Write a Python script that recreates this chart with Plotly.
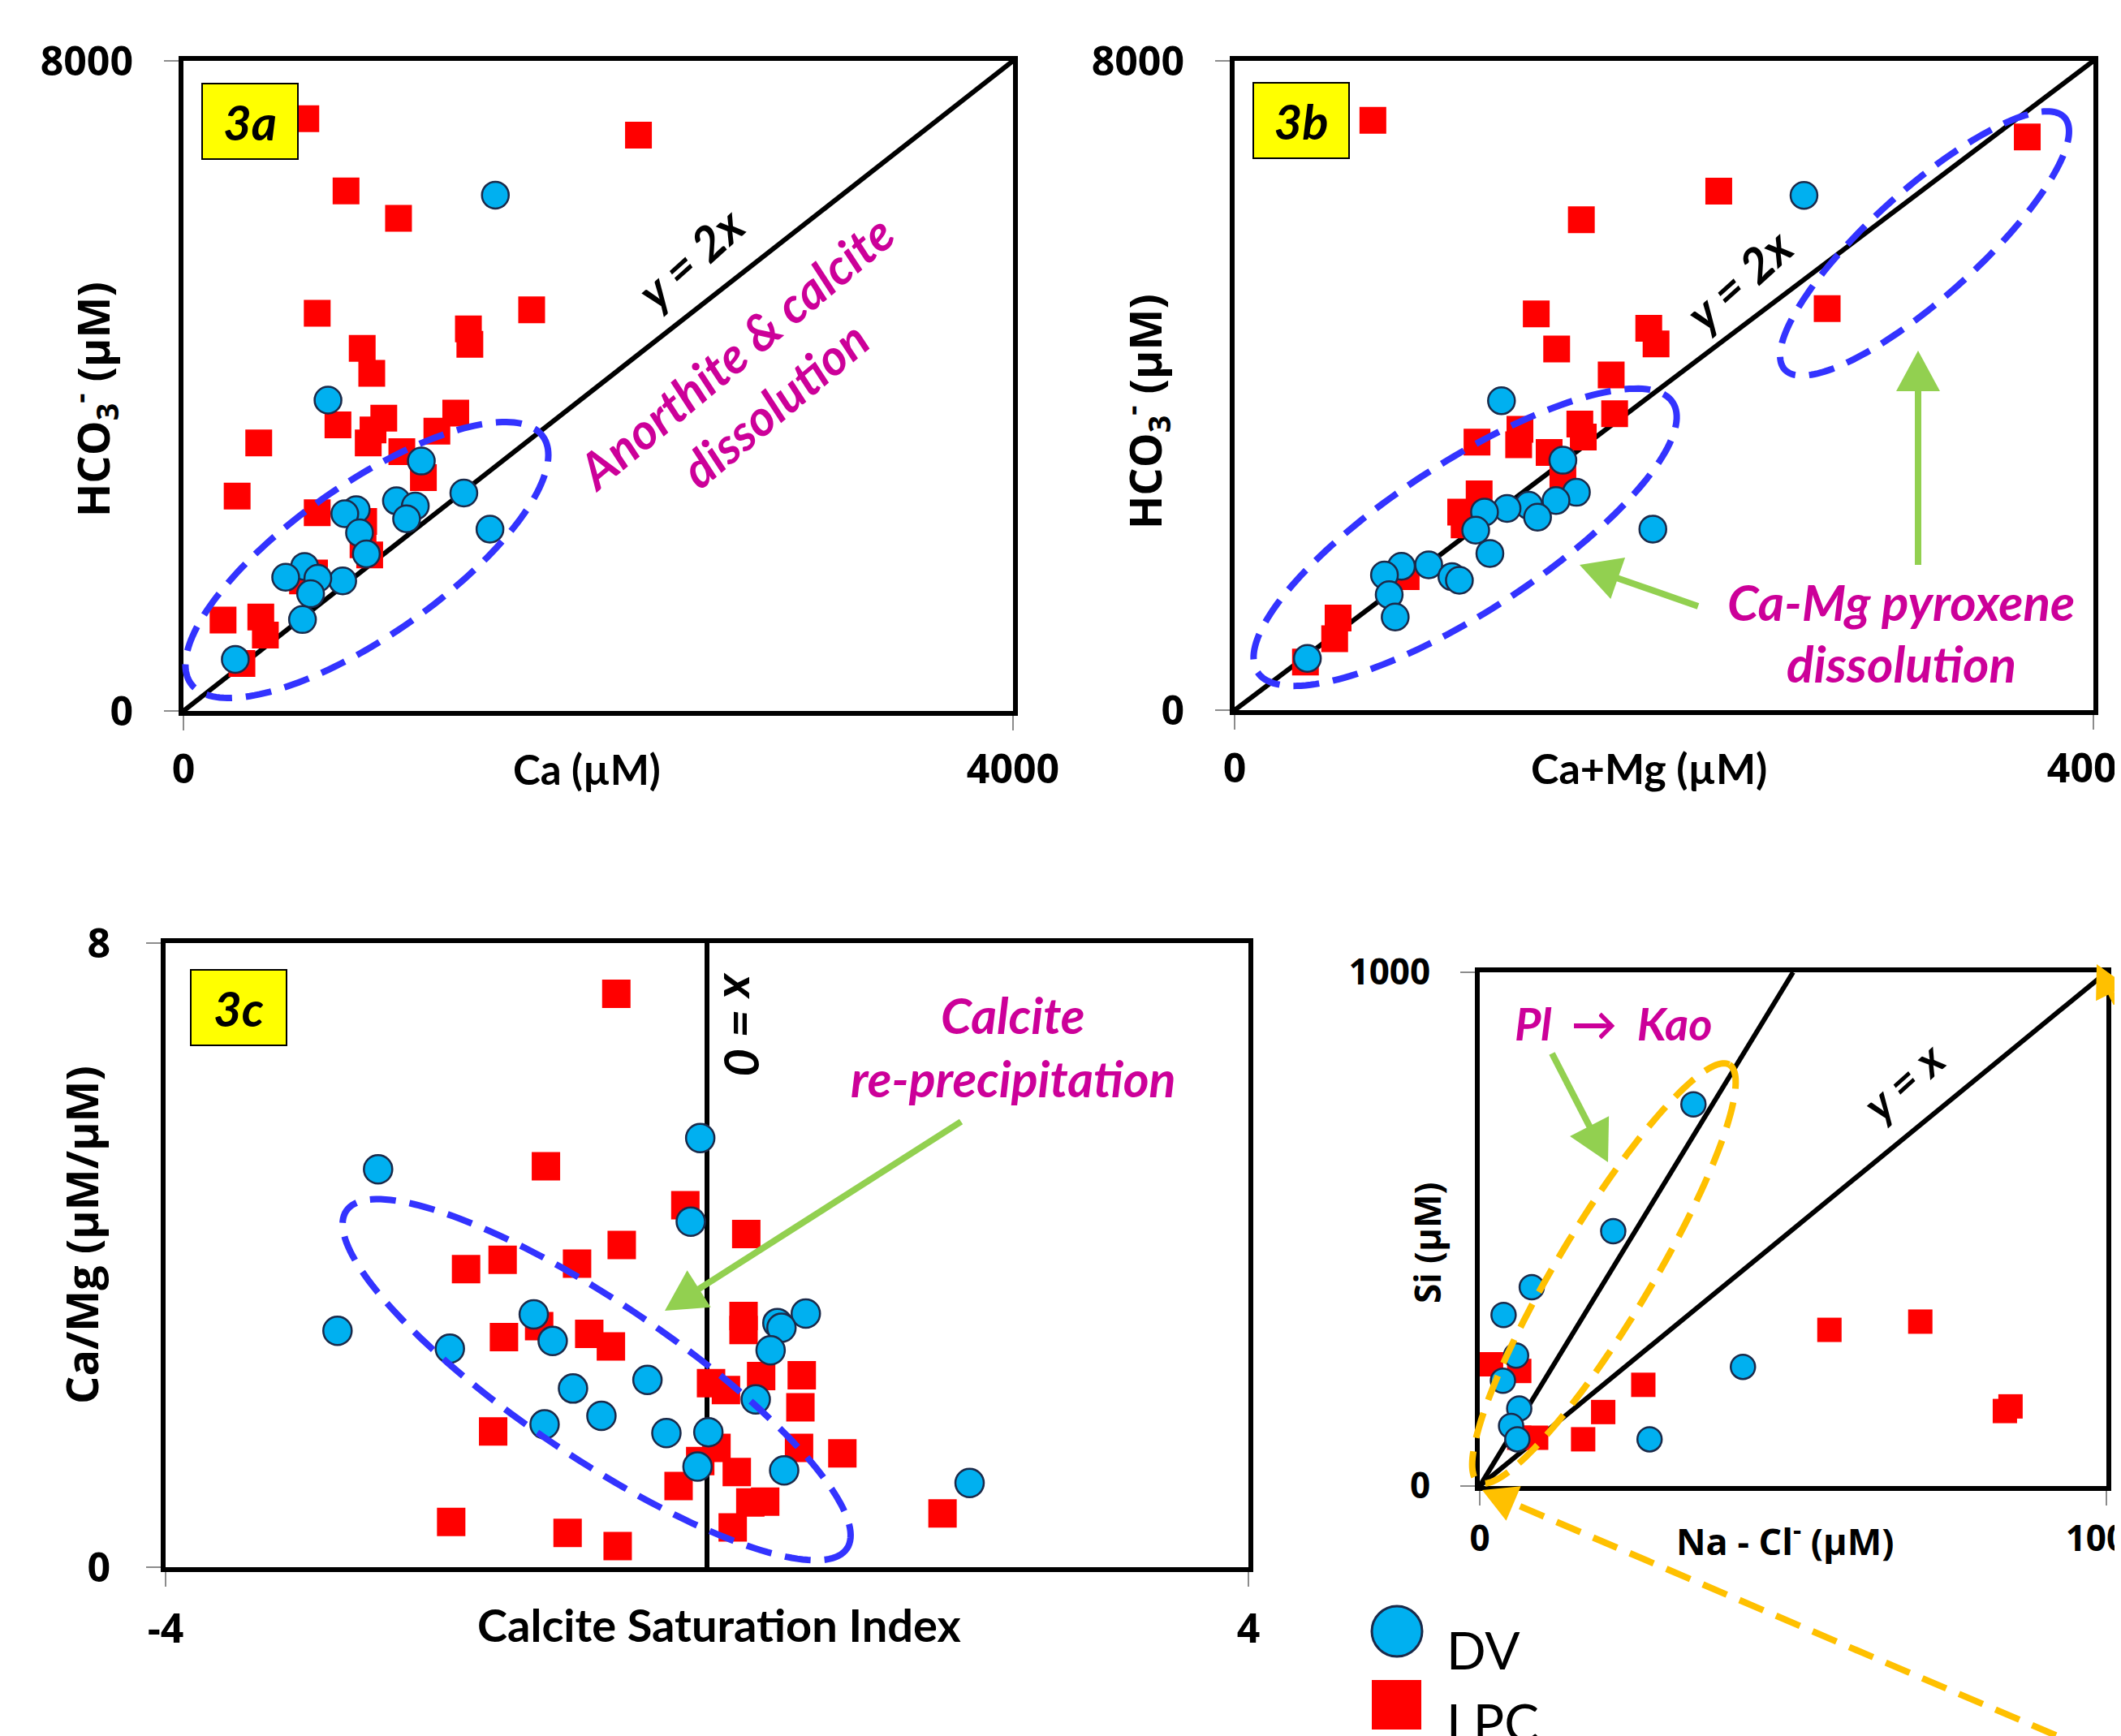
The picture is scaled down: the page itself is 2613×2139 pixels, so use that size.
import numpy as np
import plotly.graph_objects as go

W, H = 2613, 2139

# ---------------- data ----------------
# 3a : Ca vs HCO3-
a_dv_ca = [1504, 697, 1147, 1352, 1478, 1027, 1118, 1076, 833, 778, 849, 882, 768, 584, 648, 493, 613, 574, 250]
a_dv_hco3 = [6348, 3825, 3075, 2681, 2237, 2586, 2523, 2364, 2478, 2427, 2192, 1932, 1601, 1779, 1633, 1646, 1442, 1125, 635]
a_lpc_ca = [590, 2194, 784, 1037, 645, 1679, 1374, 1381, 862, 908, 745, 966, 914, 891, 1313, 1222, 363, 1053, 1157,
            259, 645, 869, 866, 898, 632, 574, 191, 373, 395, 282]
a_lpc_hco3 = [7288, 7085, 6399, 6062, 4893, 4937, 4702, 4512, 4461, 4156, 3520, 3603, 3457, 3298, 3666, 3444, 3298,
              3190, 2872, 2643, 2440, 2332, 2046, 1919, 1697, 1601, 1118, 1156, 934, 585]

# 3b : Ca+Mg vs HCO3-
b_dv_camg = [2652, 1243, 1529, 1948, 1592, 1497, 1370, 1411, 1269, 1164, 1123, 1189, 904, 777, 698, 1012, 1047, 720, 748, 339]
b_dv_hco3 = [6343, 3812, 3079, 2231, 2684, 2582, 2524, 2378, 2486, 2441, 2218, 1931, 1791, 1772, 1664, 1645, 1600, 1422, 1147, 637]
b_lpc_camg = [644, 3692, 2255, 1615, 1405, 2760, 1929, 1963, 1500, 1754, 1129, 1329, 1323, 1608, 1624, 1770, 1465,
              1529, 1139, 1053, 1069, 799, 482, 466, 330]
b_lpc_hco3 = [7267, 7063, 6394, 6043, 4883, 4947, 4704, 4513, 4449, 4131, 3302, 3461, 3270, 3525, 3366, 3653, 3175,
              2856, 2665, 2441, 2282, 1645, 1135, 880, 593]

# 3c : Calcite SI vs Ca/Mg
c_dv_si = [-0.05, -2.43, -0.12, -2.73, -1.90, -1.28, -1.14, 0.73, 0.52, 0.55, 0.47, -0.44, -0.99, 0.36, -0.78,
           -1.20, -0.30, 0.01, -0.07, 0.57, 1.94]
c_dv_camg = [5.50, 5.10, 4.43, 3.03, 2.80, 3.24, 2.90, 3.25, 3.13, 3.07, 2.78, 2.40, 2.29, 2.15, 1.94, 1.83, 1.72,
             1.73, 1.29, 1.24, 1.08]
c_lpc_si = [-0.67, -1.19, -0.16, 0.29, -0.63, -0.96, -1.51, -1.78, 0.27, 0.27, -1.24, -1.50, -0.87, -0.71, 0.03, 0.14,
            0.40, 0.70, 0.69, 0.68, 1.00, -1.58, 0.07, -0.05, 0.22, -0.21, 0.32, 0.43, 0.19, 1.74, -1.89, -1.03, -0.66]
c_lpc_camg = [7.35, 5.14, 4.64, 4.27, 4.13, 3.89, 3.94, 3.82, 3.22, 3.04, 3.09, 2.95, 2.99, 2.83, 2.36, 2.27, 2.45,
              2.46, 2.05, 1.53, 1.46, 1.74, 1.53, 1.36, 1.22, 1.04, 0.83, 0.84, 0.51, 0.69, 0.58, 0.44, 0.27]

# 3d : Na - Cl vs Si
d_dv_nacl = [341, 213, 83, 38, 58, 37, 63, 50, 60, 420, 271]
d_dv_si = [743, 496, 387, 333, 254, 205, 151, 117, 91, 232, 91]
d_lpc_nacl = [18, 63, 63, 90, 165, 197, 261, 558, 703, 838, 847]
d_lpc_si = [237, 224, 94, 94, 91, 144, 197, 304, 320, 146, 155]

# reference lines
ref_ab_x = [0, 4000]
ref_ab_y = [0, 8000]          # y = 2x
ref_c_x = [0, 0]
ref_c_y = [0, 8]              # x = 0
ref_d1_x = [0, 1000]
ref_d1_y = [0, 1000]          # y = x
ref_d2_x = [0, 500]
ref_d2_y = [0, 1000]          # Pl -> Kao

# ---------------- styles ----------------
DV_FILL = "#00B0F0"
DV_EDGE = "#1B2A4A"
LPC_FILL = "#FF0000"
MAGENTA = "#CC0099"
BLUE = "#3333FF"
GREEN = "#92D050"
YELLOW = "#FFC000"


def dom(p0, p1, total):
    return [p0 / total, p1 / total]


def ydom(top, bottom):
    return [1 - bottom / H, 1 - top / H]


fig = go.Figure()

panels = [
    ("x", "y", a_lpc_ca, a_lpc_hco3, a_dv_ca, a_dv_hco3, [(ref_ab_x, ref_ab_y)], 33),
    ("x2", "y2", b_lpc_camg, b_lpc_hco3, b_dv_camg, b_dv_hco3, [(ref_ab_x, ref_ab_y)], 33),
    ("x3", "y3", c_lpc_si, c_lpc_camg, c_dv_si, c_dv_camg, [(ref_c_x, ref_c_y)], 35),
    ("x4", "y4", d_lpc_nacl, d_lpc_si, d_dv_nacl, d_dv_si, [(ref_d1_x, ref_d1_y), (ref_d2_x, ref_d2_y)], 30),
]

for xa, ya, lx, ly, dx, dy, refs, msz in panels:
    for rx, ry in refs:
        fig.add_trace(go.Scatter(x=rx, y=ry, mode="lines", xaxis=xa, yaxis=ya,
                                 line=dict(color="black", width=6), showlegend=False, hoverinfo="skip"))
    fig.add_trace(go.Scatter(x=lx, y=ly, mode="markers", xaxis=xa, yaxis=ya, name="LPC", showlegend=False,
                             marker=dict(symbol="square", size=msz, color=LPC_FILL, line=dict(width=0))))
    fig.add_trace(go.Scatter(x=dx, y=dy, mode="markers", xaxis=xa, yaxis=ya, name="DV", showlegend=False,
                             marker=dict(symbol="circle", size=msz, color=DV_FILL,
                                         line=dict(color=DV_EDGE, width=2.5))))


def axis(domain, rng, tickvals, ticktext, anchor, fsize, standoff):
    return dict(domain=domain, range=rng, tickvals=tickvals, ticktext=ticktext, anchor=anchor,
                showline=True, mirror=True, linecolor="black", linewidth=6,
                showgrid=False, zeroline=False, ticks="outside", ticklen=18, tickwidth=1.5,
                tickcolor="#8c8c8c", ticklabelstandoff=standoff, ticklabeloverflow="allow",
                tickfont=dict(family="Open Sans", size=fsize, color="black", weight="bold"),
                fixedrange=True)


layout = dict(
    width=W, height=H, paper_bgcolor="white", plot_bgcolor="white",
    margin=dict(l=0, r=0, t=0, b=0, autoexpand=False),
    showlegend=False,
    xaxis=axis(dom(218, 1240, W), [0, 4000], [0, 4000], ["0", "4000"], "y", 50, 5),
    yaxis=axis(ydom(67, 868), [0, 8000], [0, 8000], ["0", "8000"], "x", 50, 28),
    xaxis2=axis(dom(1513, 2571, W), [0, 4000], [0, 4000], ["0", "4000"], "y2", 50, 5),
    yaxis2=axis(ydom(67, 867), [0, 8000], [0, 8000], ["0", "8000"], "x2", 50, 28),
    xaxis3=axis(dom(196, 1530, W), [-4, 4], [-4, 4], ["-4", "4"], "y3", 50, 9),
    yaxis3=axis(ydom(1154, 1923), [0, 8], [0, 8], ["0", "8"], "x3", 50, 34),
    xaxis4=axis(dom(1815, 2587, W), [0, 1000], [0, 1000], ["0", "1000"], "y4", 44, 3),
    yaxis4=axis(ydom(1190, 1823), [0, 1000], [0, 1000], ["0", "1000"], "x4", 44, 28),
)
fig.update_layout(**layout)

# ---------------- annotations ----------------
ann = []


def text(px, py, s, size, family="Lato", color="black", bold=True, italic=False, angle=0, xanchor="center"):
    ann.append(dict(x=px / W, y=1 - py / H, xref="paper", yref="paper", text=s, showarrow=False,
                    xanchor=xanchor, yanchor="middle", textangle=angle,
                    font=dict(family=family, size=size, color=color,
                              weight="bold" if bold else "normal",
                              style="italic" if italic else "normal")))


def box(px, py, s):
    ann.append(dict(x=px / W, y=1 - py / H, xref="paper", yref="paper", text=s, showarrow=False,
                    xanchor="center", yanchor="middle", width=116, height=91,
                    bgcolor="#FFFF00", bordercolor="black", borderwidth=2, borderpad=0,
                    font=dict(family="Lato", size=60, color="black", weight="bold", style="italic")))


# axis titles
text(715, 939, "Ca (µM)", 51)
text(106, 484, "HCO<sub>3</sub><sup>-</sup> (µM)", 54, family="Open Sans", angle=-90)
text(2023, 938, "Ca+Mg (µM)", 52)
text(1403, 499, "HCO<sub>3</sub><sup>-</sup> (µM)", 54, family="Open Sans", angle=-90)
text(878, 1993, "Calcite Saturation Index", 56)
text(92, 1514, "Ca/Mg (µM/µM)", 54, family="Open Sans", angle=-90)
text(2191, 1888, "Na - Cl<sup>-</sup> (µM)", 45, family="Open Sans")
text(1750, 1524, "Si (µM)", 44, family="Open Sans", angle=-90)

# panel labels
box(300, 142, "3a")
box(1595, 141, "3b")
box(286, 1233, "3c")

# in-plot notes
text(843, 310, "y = 2x", 59, italic=True, angle=-42)
text(897, 425, "Anorthite & calcite", 61, color=MAGENTA, italic=True, angle=-40)
text(946, 490, "dissolution", 61, color=MAGENTA, italic=True, angle=-40)
text(2134, 336, "y = 2x", 59, italic=True, angle=-42)
text(2334, 733, "Ca-Mg pyroxene", 62, color=MAGENTA, italic=True)
text(2334, 809, "dissolution", 62, color=MAGENTA, italic=True)
text(907, 1254, "x = 0", 60, italic=True, angle=90)
text(1240, 1242, "Calcite", 61, color=MAGENTA, italic=True)
text(1240, 1320, "re-precipitation", 61, color=MAGENTA, italic=True)
text(1980, 1252, "Pl \u00a0→\u00a0 Kao", 56, color=MAGENTA, italic=True)
text(2336, 1324, "y = x", 56, italic=True, angle=-42)

# legend text
text(1772, 2024, "DV", 64, bold=False, xanchor="left")
text(1772, 2113, "LPC", 64, bold=False, xanchor="left")

fig.update_layout(annotations=ann)

# ---------------- shapes (ellipses, arrows, legend keys) ----------------
shapes = []


def P(px, py):
    return f"{px / W:.5f},{1 - py / H:.5f}"


def ellipse(cx, cy, a, b, ang, color, width=8, dash="32px,17px"):
    t = np.linspace(0, 2 * np.pi, 181)
    phi = np.radians(ang)
    xs = cx + a * np.cos(t) * np.cos(phi) + b * np.sin(t) * np.sin(phi)
    ys = cy - a * np.cos(t) * np.sin(phi) + b * np.sin(t) * np.cos(phi)
    path = "M " + " L ".join(P(x, y) for x, y in zip(xs, ys)) + " Z"
    shapes.append(dict(type="path", xref="paper", yref="paper", path=path, layer="above",
                       line=dict(color=color, width=width, dash=dash)))


def arrow(tx, ty, hx, hy, color, width=8, dash="solid", L=50, hw=27):
    d = np.array([hx - tx, hy - ty], dtype=float)
    d /= np.hypot(*d)
    n = np.array([-d[1], d[0]])
    base = np.array([hx, hy]) - L * d
    shapes.append(dict(type="line", xref="paper", yref="paper", x0=tx / W, y0=1 - ty / H,
                       x1=(base[0] + 4 * d[0]) / W, y1=1 - (base[1] + 4 * d[1]) / H, layer="above",
                       line=dict(color=color, width=width, dash=dash)))
    c1 = base + hw * n
    c2 = base - hw * n
    path = f"M {P(hx, hy)} L {P(*c1)} L {P(*c2)} Z"
    shapes.append(dict(type="path", xref="paper", yref="paper", path=path, layer="above",
                       fillcolor=color, line=dict(width=0)))


ellipse(444, 682, 265, 93, 35, BLUE)
ellipse(1797, 654, 305, 92, 33, BLUE)
ellipse(2363, 292, 232, 66, 42, BLUE)
ellipse(727, 1692, 372, 95, -34, BLUE)
ellipse(1968, 1561, 300, 58, 59, YELLOW)

arrow(2084, 739, 1938, 688, GREEN)
arrow(2355, 688, 2355, 424, GREEN)
arrow(1176, 1374, 811, 1607, GREEN)
arrow(1904, 1290, 1973, 1424, GREEN)

arrow(2660, 2188, 1818, 1828, YELLOW, width=8, dash="32px,17px", L=42, hw=23)
arrow(2665, 1360, 2575, 1180, YELLOW, width=8, dash="32px,17px", L=40, hw=21)

# legend keys
shapes.append(dict(type="circle", xref="paper", yref="paper", x0=1682 / W, x1=1744 / W,
                   y0=1 - 2033 / H, y1=1 - 1971 / H, fillcolor=DV_FILL, line=dict(color=DV_EDGE, width=3)))
shapes.append(dict(type="rect", xref="paper", yref="paper", x0=1682 / W, x1=1743 / W,
                   y0=1 - 2123 / H, y1=1 - 2062 / H, fillcolor=LPC_FILL, line=dict(width=0)))

fig.update_layout(shapes=shapes)

fig.write_html("out.html")
